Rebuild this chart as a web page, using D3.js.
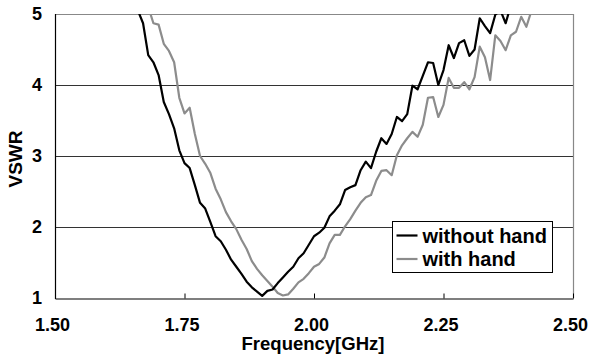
<!DOCTYPE html>
<html>
<head>
<meta charset="utf-8">
<script src="https://cdn.jsdelivr.net/npm/d3@7"></script>
<style>
  body { margin: 0; background: #fff; }
  text { font-family: "Liberation Sans", Arial, sans-serif; font-weight: bold; }
</style>
</head>
<body>
<div id="chart"></div>
<script>
// Measured frequencies (GHz)
const frequency = [
  1.66, 1.67, 1.68, 1.69, 1.70, 1.71, 1.72, 1.73, 1.74, 1.75,
  1.76, 1.77, 1.78, 1.79, 1.80, 1.81, 1.82, 1.83, 1.84, 1.85,
  1.86, 1.87, 1.88, 1.89, 1.90, 1.91, 1.92, 1.93, 1.94, 1.95,
  1.96, 1.97, 1.98, 1.99, 2.00, 2.01, 2.02, 2.03, 2.04, 2.05,
  2.06, 2.07, 2.08, 2.09, 2.10, 2.11, 2.12, 2.13, 2.14, 2.15,
  2.16, 2.17, 2.18, 2.19, 2.20, 2.21, 2.22, 2.23, 2.24, 2.25,
  2.26, 2.27, 2.28, 2.29, 2.30, 2.31, 2.32, 2.33, 2.34, 2.35,
  2.36, 2.37, 2.38, 2.39, 2.40, 2.41, 2.42
];

// VSWR without hand
const withoutHand = [
  5.05, 4.87, 4.42, 4.32, 4.14, 3.76, 3.59, 3.39, 3.08, 2.90,
  2.83, 2.59, 2.34, 2.26, 2.07, 1.87, 1.80, 1.68, 1.54, 1.44,
  1.34, 1.23, 1.15, 1.09, 1.03, 1.10, 1.12, 1.21, 1.29, 1.37,
  1.44, 1.56, 1.63, 1.75, 1.87, 1.92, 1.99, 2.15, 2.23, 2.32,
  2.52, 2.56, 2.59, 2.80, 2.92, 2.83, 3.06, 3.25, 3.17, 3.31,
  3.55, 3.49, 3.59, 3.99, 3.94, 4.13, 4.32, 4.31, 4.00, 4.21,
  4.56, 4.38, 4.59, 4.63, 4.41, 4.50, 4.94, 4.83, 4.73, 4.99,
  5.05, 4.87, 5.12, 5.25, null, null, null
];

// VSWR with hand
const withHand = [
  null, null, 5.10, 4.87, 4.85, 4.58, 4.48, 4.32, 3.82, 3.60,
  3.68, 3.31, 3.00, 2.89, 2.76, 2.54, 2.39, 2.21, 2.08, 1.97,
  1.82, 1.69, 1.52, 1.41, 1.32, 1.24, 1.16, 1.07, 1.035, 1.05,
  1.13, 1.22, 1.27, 1.35, 1.44, 1.48, 1.57, 1.77, 1.89, 1.89,
  2.01, 2.11, 2.23, 2.34, 2.42, 2.45, 2.65, 2.79, 2.80, 2.73,
  3.01, 3.15, 3.25, 3.34, 3.27, 3.44, 3.82, 3.83, 3.55, 3.72,
  4.10, 3.96, 3.96, 4.04, 3.94, 4.11, 4.54, 4.39, 4.07, 4.70,
  4.62, 4.49, 4.70, 4.75, 4.96, 4.82, 5.05
];

const xTicks = [1.50, 1.75, 2.00, 2.25, 2.50];
const yTicks = [1, 2, 3, 4, 5];
const seriesNames = ['without hand', 'with hand'];

// Layout
const config = {
  width: 596,
  height: 356,
  left: 55,
  right: 573,
  top: 14,
  bottom: 298
};

const svg = d3.select('#chart')
  .append('svg')
  .attr('width', config.width)
  .attr('height', config.height);

const x = d3.scaleLinear().domain([1.5, 2.5]).range([config.left, config.right]);
const y = d3.scaleLinear().domain([1, 5]).range([config.bottom, config.top]);

// Horizontal grid lines (2, 3, 4)
svg.append('g')
  .selectAll('line')
  .data(yTicks.filter(d => d > 1 && d < 5))
  .enter()
  .append('line')
  .attr('x1', config.left)
  .attr('x2', config.right)
  .attr('y1', d => Math.round(y(d)) + 0.5)
  .attr('y2', d => Math.round(y(d)) + 0.5)
  .attr('stroke', '#333')
  .attr('stroke-width', 1);

// Top and right frame
svg.append('line')
  .attr('x1', config.left).attr('x2', config.right)
  .attr('y1', y(5) + 0.5).attr('y2', y(5) + 0.5)
  .attr('stroke', '#888').attr('stroke-width', 1.2);
svg.append('line')
  .attr('x1', config.right + 0.5).attr('x2', config.right + 0.5)
  .attr('y1', config.top).attr('y2', config.bottom)
  .attr('stroke', '#888').attr('stroke-width', 1.2);

// Clip the curves to the plot area
svg.append('clipPath')
  .attr('id', 'plot-clip')
  .append('rect')
  .attr('x', config.left)
  .attr('y', config.top)
  .attr('width', config.right - config.left)
  .attr('height', config.bottom - config.top);

const line = values => d3.line()
  .defined((d, i) => values[i] !== null)
  .x(d => x(d))
  .y((d, i) => y(values[i]))(frequency);

svg.append('path')
  .attr('clip-path', 'url(#plot-clip)')
  .attr('d', line(withHand))
  .attr('fill', 'none')
  .attr('stroke', '#8c8c8c')
  .attr('stroke-width', 2.2)
  .attr('stroke-linejoin', 'round');

svg.append('path')
  .attr('clip-path', 'url(#plot-clip)')
  .attr('d', line(withoutHand))
  .attr('fill', 'none')
  .attr('stroke', '#000')
  .attr('stroke-width', 2.2)
  .attr('stroke-linejoin', 'round');

// Left axis line
svg.append('line')
  .attr('x1', config.left + 0.5).attr('x2', config.left + 0.5)
  .attr('y1', config.top).attr('y2', config.bottom + 1)
  .attr('stroke', '#000').attr('stroke-width', 1.2);

// Bottom axis with inward ticks
const xAxis = d3.axisBottom(x)
  .tickValues(xTicks)
  .tickSizeInner(-5)
  .tickSizeOuter(0)
  .tickFormat(d3.format('.2f'));

const gx = svg.append('g')
  .attr('transform', `translate(0,${config.bottom + 0.5})`)
  .call(xAxis);
gx.select('.domain').attr('stroke', '#000').attr('stroke-width', 1.2);
gx.selectAll('.tick line').attr('stroke', '#000');
gx.selectAll('.tick text')
  .attr('y', 0)
  .attr('dy', 32)
  .attr('dx', -3)
  .attr('fill', '#000')
  .style('font-size', '18px')
  .style('font-weight', 'bold');

// Left tick labels
svg.append('g')
  .selectAll('text')
  .data(yTicks)
  .enter()
  .append('text')
  .attr('x', 42)
  .attr('y', d => y(d) + 6)
  .attr('text-anchor', 'end')
  .style('font-size', '18px')
  .text(d => d);

// Axis titles
svg.append('text')
  .attr('transform', 'translate(22,159) rotate(-90)')
  .attr('text-anchor', 'middle')
  .style('font-size', '19px')
  .text('VSWR');

svg.append('text')
  .attr('x', 313)
  .attr('y', 350)
  .attr('text-anchor', 'middle')
  .style('font-size', '18.5px')
  .text('Frequency[GHz]');

// Legend
const legend = svg.append('g').attr('transform', 'translate(392.5,221.5)');
legend.append('rect')
  .attr('width', 160)
  .attr('height', 51)
  .attr('fill', '#fff')
  .attr('stroke', '#000')
  .attr('stroke-width', 1);

const legendColors = ['#000', '#8c8c8c'];
seriesNames.forEach((name, i) => {
  const ly = 14 + i * 23.5;
  legend.append('line')
    .attr('x1', 4).attr('x2', 25)
    .attr('y1', ly).attr('y2', ly)
    .attr('stroke', legendColors[i])
    .attr('stroke-width', 2.2);
  legend.append('text')
    .attr('x', 30)
    .attr('y', ly + 7)
    .style('font-size', '20px')
    .text(name);
});
</script>
</body>
</html>
